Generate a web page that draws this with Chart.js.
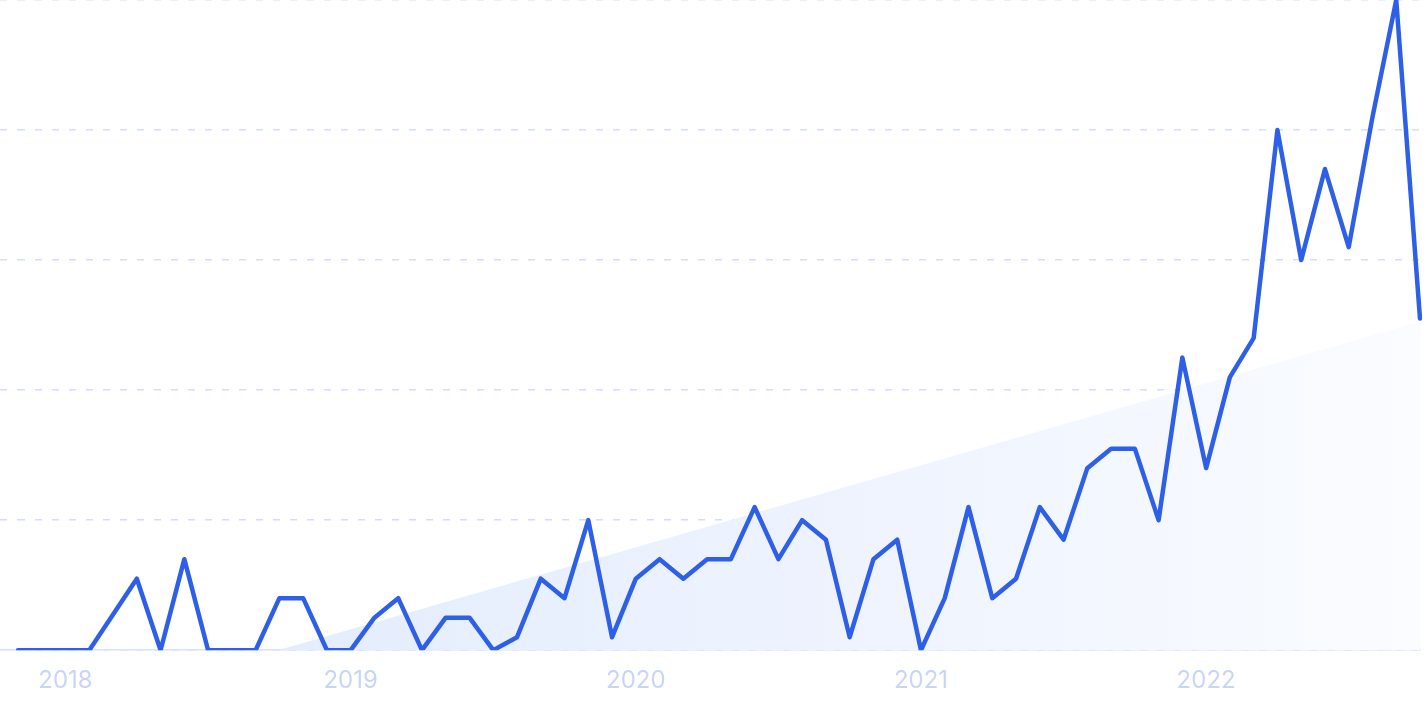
<!DOCTYPE html>
<html>
<head>
<meta charset="utf-8">
<script src="https://cdn.jsdelivr.net/npm/chart.js@4"></script>
<style>
    html, body { margin: 0; padding: 0; background: #ffffff; overflow: hidden; }
    canvas { display: block; }
</style>
</head>
<body>
<canvas id="myChart" width="1425" height="712"></canvas>
<script>
// Months from Nov 2017 to Oct 2022
const months = [
    'Nov 2017', 'Dec 2017',
    'Jan 2018', 'Feb 2018', 'Mar 2018', 'Apr 2018', 'May 2018', 'Jun 2018',
    'Jul 2018', 'Aug 2018', 'Sep 2018', 'Oct 2018', 'Nov 2018', 'Dec 2018',
    'Jan 2019', 'Feb 2019', 'Mar 2019', 'Apr 2019', 'May 2019', 'Jun 2019',
    'Jul 2019', 'Aug 2019', 'Sep 2019', 'Oct 2019', 'Nov 2019', 'Dec 2019',
    'Jan 2020', 'Feb 2020', 'Mar 2020', 'Apr 2020', 'May 2020', 'Jun 2020',
    'Jul 2020', 'Aug 2020', 'Sep 2020', 'Oct 2020', 'Nov 2020', 'Dec 2020',
    'Jan 2021', 'Feb 2021', 'Mar 2021', 'Apr 2021', 'May 2021', 'Jun 2021',
    'Jul 2021', 'Aug 2021', 'Sep 2021', 'Oct 2021', 'Nov 2021', 'Dec 2021',
    'Jan 2022', 'Feb 2022', 'Mar 2022', 'Apr 2022', 'May 2022', 'Jun 2022',
    'Jul 2022', 'Aug 2022', 'Sep 2022', 'Oct 2022'
];

// Search interest (0-100)
const interest = [
    0, 0,
    0, 0, 5.5, 11, 0, 14, 0, 0, 0, 8, 8, 0,
    0, 5, 8, 0, 5, 5, 0, 2, 11, 8, 20, 2,
    11, 14, 11, 14, 14, 22, 14, 20, 17, 2, 14, 17,
    0, 8, 22, 8, 11, 22, 17, 28, 31, 31, 20, 45,
    28, 42, 48, 80, 60, 74, 62, 82, 100, 51
];

// Trend line end values (first and last month)
const trendStart = -11.5;
const trendEnd = 50.5;

const yTicks = [0, 20, 40, 60, 80, 100];

const trendData = months.map((m, i) => {
    if (i === 0) return trendStart;
    if (i === months.length - 1) return trendEnd;
    return null;
});

function trendFill(context) {
    const chart = context.chart;
    const area = chart.chartArea;
    if (!area) return 'rgba(230,239,253,1)';
    const g = chart.ctx.createLinearGradient(area.left + 250, 0, area.right, 0);
    g.addColorStop(0, '#e4edfd');
    g.addColorStop(0.5, '#eef3fe');
    g.addColorStop(1, '#fafcff');
    return g;
}

const ctx = document.getElementById('myChart').getContext('2d');

new Chart(ctx, {
    type: 'line',
    data: {
        labels: months,
        datasets: [
            {
                label: 'Interest',
                data: interest,
                borderColor: '#2d5fe8',
                borderWidth: 4.5,
                borderJoinStyle: 'round',
                borderCapStyle: 'round',
                pointRadius: 0,
                tension: 0,
                fill: false,
                order: 0
            },
            {
                label: 'Trend',
                data: trendData,
                spanGaps: true,
                borderWidth: 0,
                borderColor: 'rgba(0,0,0,0)',
                backgroundColor: trendFill,
                pointRadius: 0,
                fill: 'origin',
                order: 1
            }
        ]
    },
    options: {
        responsive: false,
        devicePixelRatio: 1,
        animation: false,
        layout: { padding: 0 },
        plugins: {
            legend: { display: false },
            tooltip: { enabled: false }
        },
        scales: {
            x: {
                type: 'category',
                offset: false,
                grid: { display: false, drawTicks: false },
                border: { display: true, color: '#d8e2fb', width: 1.5 },
                ticks: {
                    autoSkip: false,
                    maxRotation: 0,
                    padding: 16.5,
                    color: '#c9d5f4',
                    font: { family: 'Inter', size: 24 },
                    callback: function (value) {
                        const label = months[value];
                        return label.startsWith('Jan') ? label.slice(4) : '';
                    }
                },
                // keep the plot running almost to the right edge
                afterFit: (scale) => {
                    scale.paddingLeft = 0;
                    scale.paddingRight = 5;
                }
            },
            y: {
                min: 0,
                max: 100,
                afterBuildTicks: (axis) => {
                    axis.ticks = yTicks.map(v => ({ value: v }));
                },
                ticks: { display: false },
                border: { display: false, dash: [7, 10] },
                grid: {
                    color: '#d3defb',
                    lineWidth: 1.5,
                    drawTicks: true,
                    tickLength: 18,
                    tickColor: '#d3defb',
                    tickWidth: 1.5,
                    tickBorderDash: (c) => (c.tick && c.tick.value === 0) ? [] : [7, 10]
                }
            }
        }
    }
});
</script>
</body>
</html>
